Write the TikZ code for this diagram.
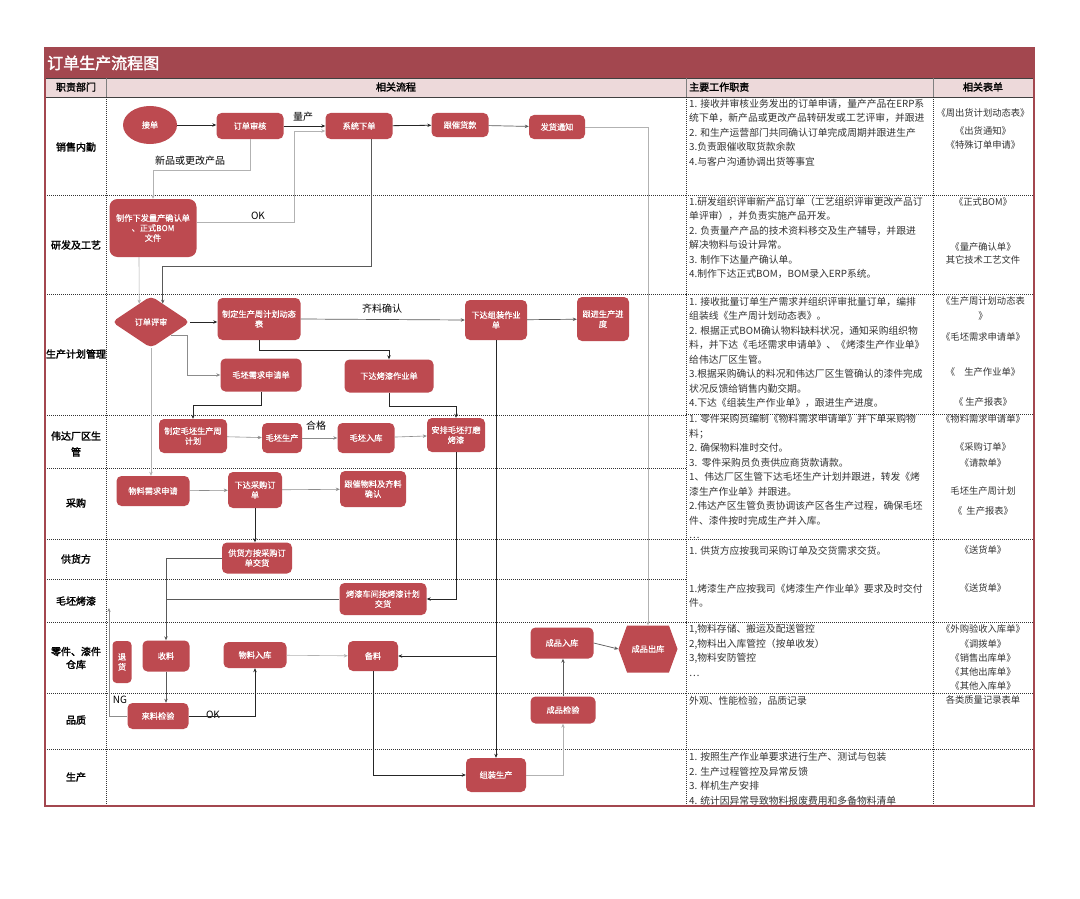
\documentclass[tikz,border=0pt]{standalone}
\usepackage{fontspec}
\setmainfont{Noto Sans CJK SC}
\newfontfamily\cjkb{Noto Sans CJK SC}[FakeBold=2]
\newfontfamily\cjkm{Noto Sans CJK SC}[FakeBold=0.8]
\usetikzlibrary{shapes.geometric,shapes.symbols,arrows.meta,calc}
\definecolor{titlered}{HTML}{A3474F}
\definecolor{nodered}{HTML}{BD4A50}
\definecolor{headpink}{HTML}{EDD9DA}
\definecolor{dutygray}{HTML}{333333}
\begin{document}
\begin{tikzpicture}[x=1pt,y=-1pt,
  box/.style={rectangle, rounded corners=5pt, fill=nodered, text=white, font=\cjkm\fontsize{8.2}{10}\selectfont, align=center, inner sep=1pt},
  lbl/.style={font=\fontsize{10}{12}\selectfont, text=black, inner sep=0pt},
  dept/.style={font=\cjkb\fontsize{10}{16}\selectfont, align=center, inner sep=0pt},
  hdr/.style={font=\cjkb\fontsize{10}{12}\selectfont, inner sep=0pt},
  duty/.style={anchor=north west, align=left, font=\fontsize{9.8}{14.5}\selectfont, text=dutygray, inner sep=0pt},
  form/.style={anchor=north, align=center, font=\fontsize{9.3}{14.5}\selectfont, text=dutygray, inner sep=0pt},
  rowsep/.style={line width=0.6pt, dash pattern=on 1pt off 1pt, black!80},
  arr/.style={-{Stealth[length=4pt,width=3.4pt]}},
  cdark/.style={draw=black!85, line width=0.8pt, arr},
  cmid/.style={draw=black!65, line width=0.7pt, arr},
  clight/.style={draw=black!30, line width=0.6pt, arr}]
\useasboundingbox (0,0) rectangle (1080,899);
\fill[white] (0,0) rectangle (1080,899);

% title and header
\fill[titlered] (45,48) rectangle (1034,78);
\fill[headpink] (45,78) rectangle (1034,97);
\draw[black!75, line width=0.8pt] (45,78) -- (1034,78);
\draw[black!75, line width=0.8pt] (45,97) -- (1034,97);
\foreach \x in {106,686,933} \draw[black!50, line width=0.6pt] (\x,78) -- (\x,97);
\foreach \x in {106,686,933} \draw[rowsep] (\x,97) -- (\x,806);
\foreach \y in {195,294,415,468,539,579,622,693,749} \draw[rowsep] (45,\y) -- (686,\y);
\foreach \y in {195,294,414,539,622,693,749} \draw[rowsep] (686,\y) -- (1034,\y);

\node[anchor=west, text=white, font=\cjkb\fontsize{16}{18}\selectfont, inner sep=0pt] (title) at (47,63) {订单生产流程图};
\node[hdr] (h1) at (76,87) {职责部门};
\node[hdr] (h2) at (396,87) {相关流程};
\node[hdr, anchor=west] (h3) at (689,87) {主要工作职责};
\node[hdr] (h4) at (983,87) {相关表单};

% departments
\node[dept] (dp1) at (76,147) {销售内勤};
\node[dept] (dp2) at (76,245) {研发及工艺};
\node[dept] (dp3) at (76,354) {生产计划管理};
\node[dept] (dp4) at (76,444) {伟达厂区生\\管};
\node[dept] (dp5) at (76,503) {采购};
\node[dept] (dp6) at (76,559) {供货方};
\node[dept] (dp7) at (76,601) {毛坯烤漆};
\node[dept, font=\cjkb\fontsize{10}{13}\selectfont] (dp8) at (76,658) {零件、漆件\\仓库};
\node[dept] (dp9) at (76,720) {品质};
\node[dept] (dp10) at (76,777) {生产};

% process nodes
\node[box, shape=ellipse, minimum width=54, minimum height=38] (jd) at (150,125) {接单};
\node[box, minimum width=67, minimum height=26] (shd) at (250,126) {订单审核};
\node[box, minimum width=67, minimum height=26] (xt) at (359,126) {系统下单};
\node[box, minimum width=57, minimum height=24] (gc) at (460,125) {跟催货款};
\node[box, minimum width=56, minimum height=24] (fh) at (557,127) {发货通知};
\node[box, minimum width=87, minimum height=58, rounded corners=8pt] (zz) at (153,228) {制作下发量产确认单\\、正式BOM\\文件};
\node[box, shape=diamond, minimum width=78, minimum height=52, inner sep=0pt, aspect=1.5] (rv) at (151,322) {订单评审};
\node[box, minimum width=83, minimum height=42] (zd) at (259,319) {制定生产周计划动态\\表};
\node[box, minimum width=62, minimum height=40] (xz) at (496,320) {下达组装作业\\单};
\node[box, minimum width=52, minimum height=44] (gj) at (603,319) {跟进生产进\\度};
\node[box, minimum width=81, minimum height=33] (mp) at (261,375) {毛坯需求申请单};
\node[box, minimum width=89, minimum height=33] (kq) at (389,376) {下达烤漆作业单};
\node[box, minimum width=68, minimum height=34] (zm) at (193,436) {制定毛坯生产周\\计划};
\node[box, minimum width=40, minimum height=30] (sc) at (282,438) {毛坯生产};
\node[box, minimum width=57, minimum height=30] (rk) at (366,438) {毛坯入库};
\node[box, minimum width=58, minimum height=34] (ap) at (456,435) {安排毛坯打磨\\烤漆};
\node[box, minimum width=73, minimum height=30] (wx) at (153,491) {物料需求申请};
\node[box, minimum width=54, minimum height=36] (cg) at (255,490) {下达采购订\\单};
\node[box, minimum width=66, minimum height=36] (gcl) at (373,489) {跟催物料及齐料\\确认};
\node[box, minimum width=70, minimum height=31] (gh) at (257,558) {供货方按采购订\\单交货};
\node[box, minimum width=87, minimum height=32] (kc) at (383,599) {烤漆车间按烤漆计划\\交货};
\node[box, minimum width=19, minimum height=42, inner sep=0pt, rounded corners=4pt] (th) at (122,662) {退\\货};
\node[box, minimum width=47, minimum height=31] (sl) at (166,656) {收料};
\node[box, minimum width=63, minimum height=26] (wr) at (255,655) {物料入库};
\node[box, minimum width=50, minimum height=30] (bl) at (373,656) {备料};
\node[box, minimum width=63, minimum height=31] (cr) at (562,643) {成品入库};
\node[box, shape=signal, signal to=east and west, signal pointer angle=140, rounded corners=0pt, minimum width=59, minimum height=47] (ck) at (648,649) {成品出库};
\node[box, minimum width=61, minimum height=26] (lj) at (158,716) {来料检验};
\node[box, minimum width=65, minimum height=27] (cj) at (563,710) {成品检验};
\node[box, minimum width=60, minimum height=34] (zs) at (496,775) {组装生产};

% labels
\node[lbl] (lq) at (303,117) {量产};
\node[lbl] (lx) at (190,161) {新品或更改产品};
\node[lbl] (lok1) at (258,216) {OK};
\node[lbl] (lql) at (382,309) {齐料确认};
\node[lbl] (lhg) at (316,426) {合格};
\node[lbl] (lng) at (120,700) {NG};
\node[lbl] (lok2) at (213,715) {OK};

% bend coordinates
\coordinate (p1) at (153,170);
\coordinate (p2) at (294,131);
\coordinate (rvA) at ($(rv.north)!0.3!(rv.east)$);
\coordinate (rvB) at ($(rv.north)!0.3!(rv.west)$);
\coordinate (rvC) at ($(rv.east)!0.5!(rv.south)$);
\coordinate (p4) at ($(rvA)+(0,-37)$);
\coordinate (p5) at (187,375);
\coordinate (p6) at (259,350);
\coordinate (p7) at (261,405);
\coordinate (p8) at (389,406);
\coordinate (ngend) at (109,608);

% connectors
\draw[cdark] (jd.east) -- (shd.west |- jd.east);
\draw[cdark] (shd) -- (xt);
\draw[cdark] (xt) -- (gc);
\draw[cmid] (gc) -- (fh);
\draw[clight] (fh.east) -| (ck.north);
\draw[clight] (shd.south) |- (p1) -- (zz.north);
\draw[clight] (zz.east |- 0,222) -| (p2) -- (xt.west |- p2);
\draw[cmid] ([xshift=12pt]xt.south) |- (p4) -- (rvA);
\draw[clight] ([xshift=-14pt]zz.south) -- (rvB);
\draw[cdark] (rv.east) -- (zd.west |- rv.east);
\draw[cmid] (zd.east) -- (xz.west);
\draw[cmid] (xz) -- (gj);
\draw[clight, draw=black!45] (rvC) -| (p5) -- (mp.west);
\draw[cdark] (zd.south) |- (p6) -| (kq.north);
\draw[cdark] (mp.south) |- (p7) -| (zm.north);
\draw[cdark] (kq.south) |- (p8) -| (ap.north);
\draw[clight, draw=black!45] (zm) -- (sc);
\draw[clight, draw=black!45] (sc) -- (rk);
\draw[clight, draw=black!45] (rk) -- (ap);
\draw[cdark] (ap.south) |- (kc.east);
\draw[cdark, line width=1pt] (xz.south) |- (bl.east);
\draw[cdark, line width=1pt] (xz.south) -- (zs.north);
\draw[clight] (rv.south) -- (rv.south |- wx.north);
\draw[clight, draw=black!45] (wx) -- (cg);
\draw[clight, draw=black!45] (cg) -- (gcl);
\draw[cdark] (cg.south) -- (cg.south |- gh.north);
\draw[cmid] (gh.west) -| (sl.north);
\draw[cmid, -] (kc.west) -- (kc.west -| sl.north);
\draw[cmid] (sl.south) -- (sl.south |- lj.north);
\draw[cdark] (lj.east) -| (wr.south);
\draw[clight, draw=black!45] (lj.west) -| (ngend);
\draw[clight] (wr) -- (bl);
\draw[cdark] (bl.south) |- (zs.west);
\draw[clight] (zs.east) -| (cj.south);
\draw[cmid] (cj.north) -- (cj.north |- cr.south);
\draw[cmid] (cr.east) -- (ck.west);

% duties
\node[duty] (du1) at (689,98.5) {1. 接收并审核业务发出的订单申请，量产产品在ERP系\\统下单，新产品或更改产品转研发或工艺评审，并跟进\\2. 和生产运营部门共同确认订单完成周期并跟进生产\\3.负责跟催收取货款余款\\4.与客户沟通协调出货等事宜};
\node[duty] (du2) at (689,196.5) {1.研发组织评审新产品订单（工艺组织评审更改产品订\\单评审），并负责实施产品开发。\\2. 负责量产产品的技术资料移交及生产辅导，并跟进\\解决物料与设计异常。\\3. 制作下达量产确认单。\\4.制作下达正式BOM，BOM录入ERP系统。};
\node[duty] (du3) at (689,296.5) {1. 接收批量订单生产需求并组织评审批量订单，编排\\组装线《生产周计划动态表》。\\2. 根据正式BOM确认物料缺料状况，通知采购组织物\\料，并下达《毛坯需求申请单》、《烤漆生产作业单》\\给伟达厂区生管。\\3.根据采购确认的料况和伟达厂区生管确认的漆件完成\\状况反馈给销售内勤交期。\\4.下达《组装生产作业单》，跟进生产进度。};
\node[duty] (du4) at (689,414.5) {1. 零件采购员编制《物料需求申请单》并下单采购物\\料；\\2. 确保物料准时交付。\\3.\ \ 零件采购员负责供应商货款请款。\\1、伟达厂区生管下达毛坯生产计划并跟进，转发《烤\\漆生产作业单》并跟进。\\2.伟达产区生管负责协调该产区各生产过程，确保毛坯\\件、漆件按时完成生产并入库。\\…};
\node[duty] (du5) at (689,545.5) {1. 供货方应按我司采购订单及交货需求交货。};
\node[duty] (du6) at (689,583.5) {1.烤漆生产应按我司《烤漆生产作业单》要求及时交付\\件。};
\node[duty] (du7) at (689,624.5) {1,物料存储、搬运及配送管控\\2,物料出入库管控（按单收发）\\3,物料安防管控\\…};
\node[duty] (du8) at (689,695.5) {外观、性能检验，品质记录};
\node[duty] (du9) at (689,752.5) {1. 按照生产作业单要求进行生产、测试与包装\\2. 生产过程管控及异常反馈\\3. 样机生产安排\\4. 统计因异常导致物料报废费用和多备物料清单};

% forms
\node[form] (fo1) at (983,108.7) {《周出货计划动态表》\\[3.5pt]《出货通知》\\[-0.5pt]《特殊订单申请》};
\node[form] (fo2) at (983,197.7) {《正式BOM》\\[30.5pt]《量产确认单》\\[-1.5pt]其它技术工艺文件};
\node[form] (fo3) at (983,296.7) {《生产周计划动态表\\[0.5pt]》\\[6.5pt]《毛坯需求申请单》\\[20.5pt]《\quad 生产作业单》\\[15.5pt]《\ 生产报表》};
\node[form] (fo4) at (983,414.7) {《物料需求申请单》\\[13.5pt]《采购订单》\\[1.5pt]《请款单》\\[13.5pt]毛坯生产周计划\\[5.5pt]《\ \ 生产报表》};
\node[form] (fo5) at (983,545.7) {《送货单》};
\node[form] (fo6) at (983,583.7) {《送货单》};
\node[form, font=\fontsize{9.3}{14.25}\selectfont] (fo7) at (983,624.7) {《外购验收入库单》\\《调拨单》\\《销售出库单》\\《其他出库单》\\《其他入库单》};
\node[form] (fo8) at (983,695.7) {各类质量记录表单};

\draw[titlered, line width=2pt] (45,48) rectangle (1034,806);
\end{tikzpicture}
\end{document}
